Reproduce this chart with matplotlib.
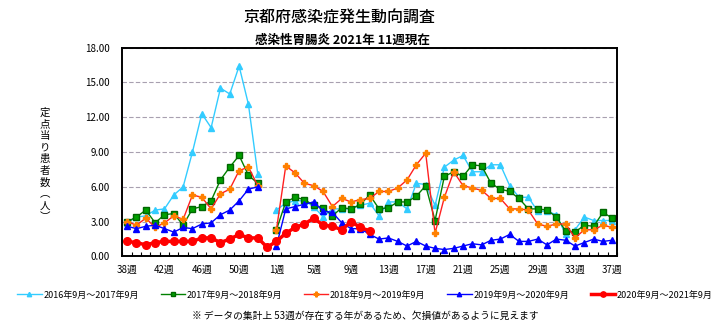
import numpy as np
import matplotlib
matplotlib.use("Agg")
import matplotlib.pyplot as plt
from matplotlib.ticker import FormatStrFormatter

plt.rcParams['font.family'] = ['Noto Sans CJK JP', 'DejaVu Sans']

# weeks 38..53 then 1..37
weeks = list(range(38, 54)) + list(range(1, 38))
week_labels = [f"{w}週" for w in weeks]

nan = np.nan
s2016 = [2.9, 3.4, 3.5, 4.0, 4.1, 5.3, 6.0, 9.0, 12.3, 11.1, 14.5, 14.0, 16.4, 13.1, 7.1,
         nan,
         4.0, 4.6, 4.8, 4.8, 4.3, 3.4, 4.1, 4.1, 4.1, 4.4, 4.6, 3.5, 4.7, 4.7, 4.1, 6.3, 6.2, 4.4,
         7.7, 8.3, 8.7, 7.3, 7.3, 7.9, 7.9, 6.1, 5.1, 5.1, 3.9, 3.9, 3.6, 1.9, 2.3, 3.4, 3.1, 3.1, 3.1]
s2017 = [3.0, 3.4, 4.0, 2.9, 3.6, 3.7, 2.7, 4.1, 4.3, 4.8, 6.6, 7.7, 8.7, 7.0, 6.3,
         nan,
         2.3, 4.7, 5.1, 4.9, 4.4, 4.2, 3.5, 4.2, 4.1, 4.5, 5.3, 4.1, 4.2, 4.7, 4.7, 5.2, 6.1, 3.1,
         6.9, 7.3, 6.9, 7.9, 7.8, 6.3, 5.8, 5.6, 5.0, 4.1, 4.1, 4.0, 3.4, 2.2, 2.1, 2.7, 2.6, 3.8, 3.3]
s2018 = [3.0, 2.7, 3.3, 2.5, 2.9, 3.5, 3.2, 5.3, 5.1, 4.1, 5.4, 5.8, 7.4, 7.7, 6.1,
         nan,
         2.3, 7.8, 7.2, 6.3, 6.1, 5.6, 4.3, 5.0, 4.7, 4.9, 5.0, 5.6, 5.6, 5.9, 6.6, 7.9, 8.9, 2.0,
         5.1, 7.3, 6.1, 5.9, 5.7, 5.0, 5.0, 4.1, 4.1, 4.0, 2.8, 2.6, 2.8, 2.8, 1.6, 2.3, 2.3, 2.7, 2.5]
s2019 = [2.6, 2.4, 2.6, 2.7, 2.4, 2.1, 2.5, 2.4, 2.8, 2.9, 3.6, 4.0, 4.8, 5.8, 6.0,
         nan,
         0.9, 4.1, 4.3, 4.5, 4.7, 3.9, 3.8, 2.9, 2.4, 2.4, 1.9, 1.5, 1.6, 1.3, 0.9, 1.3, 0.9, 0.7,
         0.6, 0.7, 0.9, 1.1, 1.0, 1.4, 1.5, 1.9, 1.3, 1.3, 1.5, 1.0, 1.5, 1.4, 0.9, 1.2, 1.5, 1.3, 1.4]
s2020 = [1.3, 1.2, 1.0, 1.2, 1.3, 1.3, 1.3, 1.3, 1.6, 1.6, 1.2, 1.5, 1.9, 1.6, 1.6,
         0.8,
         1.3, 2.0, 2.5, 2.8, 3.3, 2.7, 2.6, 2.3, 3.0, 2.5, 2.2]

series = [
    ("2016年9月～2017年9月", s2016,
     dict(color="#33ccff", lw=1.0, marker="^", ms=4.5, mfc="#33ccff", mec="#33ccff")),
    ("2017年9月～2018年9月", s2017,
     dict(color="#008000", lw=1.0, marker="s", ms=4, mfc="#00a000", mec="#006600")),
    ("2018年9月～2019年9月", s2018,
     dict(color="#ff2020", lw=1.0, marker="P", ms=5, mfc="#ff8000", mec="#ff8000")),
    ("2019年9月～2020年9月", s2019,
     dict(color="#0000ff", lw=1.0, marker="^", ms=4.5, mfc="#0000ff", mec="#0000ff")),
    ("2020年9月～2021年9月", s2020,
     dict(color="#ff0000", lw=2.5, marker="o", ms=5.5, mfc="#ff0000", mec="#ff0000")),
]

fig = plt.figure(figsize=(7.18, 3.26), dpi=100)
ax = fig.add_axes([0.1706, 0.2132, 0.6887, 0.641])

x = np.arange(len(weeks))
handles = []
for name, vals, st in series:
    h, = ax.plot(x[:len(vals)], vals, label=name, **st)
    handles.append(h)

ax.set_xlim(-0.5, len(weeks) - 0.5)
ax.set_ylim(0, 18)
ax.set_yticks(np.arange(0, 19, 3))
ax.yaxis.set_major_formatter(FormatStrFormatter("%.2f"))
ax.set_xticks(x[::4])
ax.set_xticklabels(week_labels[::4])
ax.set_xticks(np.arange(-0.5, len(weeks)), minor=True)
ax.tick_params(axis='x', which='major', length=0, pad=6, labelsize=7)
ax.tick_params(axis='x', which='minor', direction='in', length=3, width=0.8)
ax.tick_params(axis='y', length=0, pad=9, labelsize=7)
ax.grid(axis='y', color='#a8a0b0', linestyle=(0, (4, 2)), lw=0.8)
ax.set_axisbelow(True)
for sp in ax.spines.values():
    sp.set_linewidth(1.4)

fig.text(339 / 718, 1 - 18 / 326, "京都府感染症発生動向調査",
         ha="center", va="center", fontsize=11.5, fontweight="medium")
fig.text(342 / 718, 1 - 40 / 326, "感染性胃腸炎 2021年 11週現在",
         ha="center", va="center", fontsize=9, fontweight="bold")

ylab = "\n".join(list("定点当り患者数") + ["︵", "人", "︶"])
fig.text(45 / 718, 1 - 165 / 326, ylab, ha="center", va="center",
         fontsize=7.5, linespacing=1.2)

fig.legend(handles=handles, loc="center", bbox_to_anchor=(365 / 718, 1 - 295 / 326),
           ncol=5, frameon=False, fontsize=6.5, handlelength=2.7,
           handletextpad=0.2, columnspacing=2.4, markerscale=0.7)

fig.text(365 / 718, 1 - 316 / 326,
         "※ データの集計上 53週が存在する年があるため、欠損値があるように見えます",
         ha="center", va="center", fontsize=7)

fig.savefig("out.png", dpi=100)
